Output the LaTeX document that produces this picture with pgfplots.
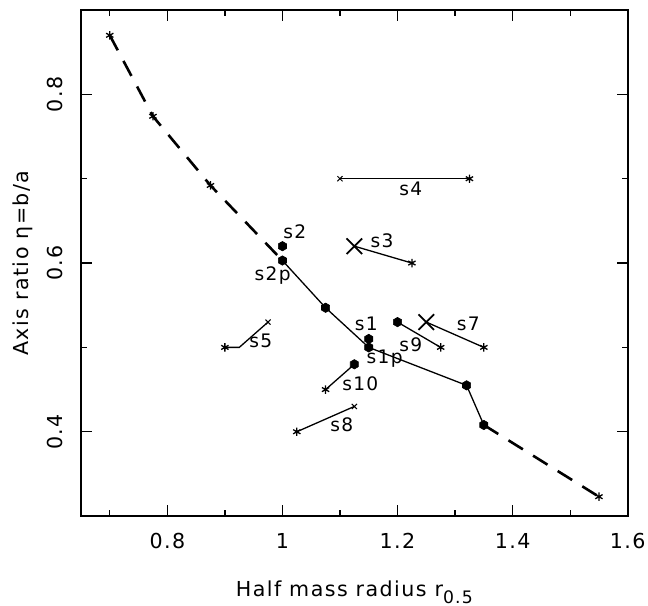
\documentclass[border=0pt]{standalone}
\usepackage{pgfplots}
\pgfplotsset{compat=1.18}
\usepackage{fontspec}
\setmainfont{DejaVu Sans}[LetterSpace=7]
\pgfdeclareplotmark{hexagon}{%
  \pgfpathmoveto{\pgfqpointpolar{90}{\pgfplotmarksize}}%
  \pgfpathlineto{\pgfqpointpolar{150}{\pgfplotmarksize}}%
  \pgfpathlineto{\pgfqpointpolar{210}{\pgfplotmarksize}}%
  \pgfpathlineto{\pgfqpointpolar{270}{\pgfplotmarksize}}%
  \pgfpathlineto{\pgfqpointpolar{330}{\pgfplotmarksize}}%
  \pgfpathlineto{\pgfqpointpolar{30}{\pgfplotmarksize}}%
  \pgfpathclose
  \pgfusepathqfillstroke}
\newcommand{\ptlab}{\fontsize{9.3}{10}\selectfont}
\begin{document}
\begin{tikzpicture}
\begin{axis}[
  scale only axis, width=273.3pt, height=253pt,
  xmin=0.65, xmax=1.6, ymin=0.3, ymax=0.9,
  xtick={0.8,1,1.2,1.4,1.6}, minor xtick={0.7,0.9,1.1,1.3,1.5},
  ytick={0.4,0.6,0.8}, minor ytick={0.3,0.5,0.7,0.9},
  xtick pos=both, ytick pos=both,
  tick align=inside, major tick length=5.5pt, minor tick length=2.85pt,
  every tick/.style={line width=0.65pt, black},
  axis line style={line width=1pt},
  /pgf/number format/assume math mode=true,
  tick label style={font=\fontsize{10.3}{12}\selectfont},
  xticklabel style={anchor=north, inner sep=0pt},
  xticklabel shift=8.3pt,
  yticklabel style={rotate=90, anchor=south, inner sep=0pt},
  yticklabel shift=9pt,
  xlabel={Half mass radius r\raisebox{-3.9pt}{\fontsize{8.6}{9}\selectfont 0.5}},
  ylabel={Axis ratio η=b/a},
  label style={font=\fontsize{10.3}{12}\selectfont},
  xlabel style={at={(axis description cs:0.5,-0.158)}, anchor=base, inner sep=0pt},
  ylabel style={at={(axis description cs:-0.0965,0.5)}, rotate=0, anchor=base, inner sep=0pt},
]
% dashed sequence
\addplot[black, line width=1.3pt, dash pattern=on 8.5pt off 6pt, mark=none]
  coordinates {(0.7,0.87)(0.775,0.774)(0.875,0.692)(1.0,0.603)};
\addplot[black, line width=1.3pt, dash pattern=on 8.5pt off 6pt, mark=none]
  coordinates {(1.35,0.408)(1.55,0.323)};
% solid sequence with hexagons
\addplot[black, line width=0.65pt, mark=hexagon, mark size=2.35pt, mark options={solid, fill=black, line width=0.3pt}]
  coordinates {(1.0,0.603)(1.075,0.547)(1.15,0.5)(1.32,0.455)(1.35,0.408)};
% paired runs
\addplot[black, line width=0.65pt, mark=none] coordinates {(1.125,0.62)(1.225,0.6)};
\addplot[black, line width=0.65pt, mark=none] coordinates {(1.1,0.7)(1.325,0.7)};
\addplot[black, line width=0.65pt, mark=none] coordinates {(0.9,0.5)(0.925,0.5)(0.975,0.53)};
\addplot[black, line width=0.65pt, mark=none] coordinates {(1.25,0.53)(1.35,0.5)};
\addplot[black, line width=0.65pt, mark=none] coordinates {(1.125,0.43)(1.025,0.4)};
\addplot[black, line width=0.65pt, mark=none] coordinates {(1.2,0.53)(1.275,0.5)};
\addplot[black, line width=0.65pt, mark=none] coordinates {(1.125,0.48)(1.075,0.45)};
% markers
\addplot[only marks, black, mark=asterisk, mark size=2.1pt, mark options={line width=0.65pt}]
  coordinates {(0.7,0.87)(0.775,0.774)(0.875,0.692)(1.55,0.323)
  (1.225,0.6)(1.325,0.7)(0.9,0.5)(1.35,0.5)(1.025,0.4)(1.275,0.5)(1.075,0.45)};
\addplot[only marks, black, mark=x, mark size=1.8pt, mark options={line width=0.5pt}]
  coordinates {(1.1,0.7)(0.975,0.53)(1.125,0.43)};
\addplot[only marks, black, mark=x, mark size=5.5pt, mark options={line width=0.9pt}]
  coordinates {(1.125,0.62)(1.25,0.53)};
\addplot[only marks, black, mark=hexagon, mark size=2.35pt, mark options={fill=black, line width=0.3pt}]
  coordinates {(1.0,0.62)(1.15,0.51)(1.2,0.53)(1.125,0.48)};
% labels
\node[anchor=base, font=\ptlab] at (axis cs:1.0214,0.629) {s2};
\node[anchor=base, font=\ptlab] at (axis cs:0.983,0.5796) {s2p};
\node[anchor=base, font=\ptlab] at (axis cs:1.2232,0.6803) {s4};
\node[anchor=base, font=\ptlab] at (axis cs:1.1733,0.619) {s3};
\node[anchor=base, font=\ptlab] at (axis cs:1.1458,0.5196) {s1};
\node[anchor=base, font=\ptlab] at (axis cs:1.3228,0.5196) {s7};
\node[anchor=base, font=\ptlab] at (axis cs:1.2232,0.4947) {s9};
\node[anchor=base, font=\ptlab] at (axis cs:1.1777,0.4809) {s1p};
\node[anchor=base, font=\ptlab] at (axis cs:1.1354,0.4493) {s10};
\node[anchor=base, font=\ptlab] at (axis cs:1.1032,0.4) {s8};
\node[anchor=base, font=\ptlab] at (axis cs:0.9622,0.4994) {s5};
\end{axis}
\pgfresetboundingbox
\path ([shift={(-40.5pt,-44.5pt)}]current axis.south west) rectangle ([shift={(10.15pt,5pt)}]current axis.north east);
\end{tikzpicture}
\end{document}
